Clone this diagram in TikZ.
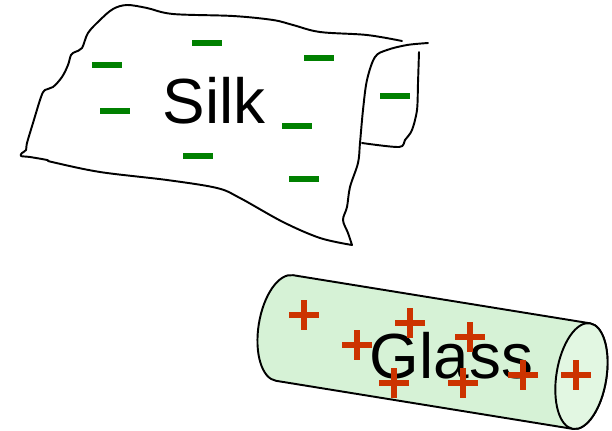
\documentclass[tikz,border=0pt]{standalone}
\usepackage{fontspec}
\setmainfont{Liberation Sans}
\usepackage{tikz}
\definecolor{chargegreen}{RGB}{0,128,0}
\definecolor{chargered}{RGB}{204,51,0}
\definecolor{glassbody}{RGB}{214,242,214}
\definecolor{glassend}{RGB}{226,247,226}
\tikzset{
  outline/.style={line width=1.1pt, line join=round, line cap=round},
  negcharge/.style={chargegreen, line width=3.4pt},
  poscharge/.style={chargered, line width=3.4pt},
  bigtext/.style={font=\fontsize{36.3}{40}\selectfont, inner sep=0pt}
}
\begin{document}
\begin{tikzpicture}[x=0.02cm, y=-0.02cm]
\useasboundingbox (0,0) rectangle (612,430);
% the cloth
\draw[outline] plot[smooth, tension=0.55] coordinates {
  (402,41) (367,35) (320,32) (293,25) (273,20) (233,16) (173,14) (147,8) (127,5)
  (113,9) (100,20) (88,33) (82,48) (75,52) (71,55) (68,65) (62,77) (53,87)
  (45,90) (41,97) (33,123) (27,143) (26,150) (22,153) (21,156) (30,157)
  (47,160) (52,162) (100,172) (167,180) (217,188) (240,198) (283,222)
  (320,238) (352,245)}
  -- plot[smooth, tension=0.55] coordinates {
  (352,245) (348,233) (343,220) (347,207) (350,187) (358,163) (360,143)
  (363,110) (367,80) (375,57) (387,50) (407,45) (428,43)};
% folded corner
\draw[outline] plot[smooth, tension=0.5] coordinates {
  (362,143) (399,147) (405,140) (412,130) (417,110) (418,83) (419,52)};
\node[bigtext, anchor=base] (silk) at (214,123) {Silk};
\foreach \cx/\cy in {207/43, 107/65, 319/58, 115/111, 395/96, 297/126, 198/156, 304/179}
  \draw[negcharge] (\cx-15,\cy) -- (\cx+15,\cy);
% the rod
\begin{scope}[shift={(284.5,328)}, rotate=-9.2]
  \filldraw[outline, fill=glassbody] (0,-53.5)
    arc[start angle=90, end angle=270, x radius=0.52cm, y radius=1.07cm]
    -- (300.8,53.5)
    arc[start angle=270, end angle=450, x radius=0.5cm, y radius=1.07cm]
    -- cycle;
  \filldraw[outline, fill=glassend] (300.8,0) ellipse[x radius=0.5cm, y radius=1.07cm];
\end{scope}
\node[bigtext, anchor=base] (glass) at (451.5,378) {Glass};
\foreach \cx/\cy in {304/315, 357/345, 410/323, 470/337, 394/383, 463/383, 523/375, 576/375} {
  \draw[poscharge] (\cx-15,\cy) -- (\cx+15,\cy);
  \draw[poscharge] (\cx,\cy-15) -- (\cx,\cy+15);
}
\end{tikzpicture}
\end{document}
